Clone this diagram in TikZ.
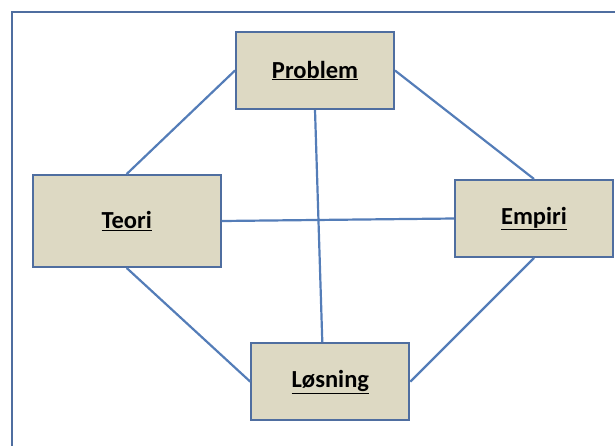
\documentclass[tikz,border=0pt]{standalone}
\usepackage{fontspec}
\setmainfont{Carlito}
\usepackage{xcolor}
\usetikzlibrary{positioning}
\definecolor{BoxFill}{RGB}{221,217,195}
\definecolor{BoxEdge}{RGB}{79,110,160}
\definecolor{LinkBlue}{RGB}{84,125,184}
\begin{document}
\begin{tikzpicture}[
            x=1pt, y=-1pt,
            % Kasser med tekst
            conceptNode/.style={
                rectangle, draw=BoxEdge, line width=2pt,
                fill=BoxFill,
                minimum width=158pt,
                minimum height=77pt,
                align=center,
                font=\bfseries\fontsize{24.5}{28}\selectfont
            },
            % Linjer mellom kassene
            linkLine/.style={draw=LinkBlue, line width=2.2pt}
        ]

            % --- RAMME ---
            \useasboundingbox (0,0) rectangle (615,445);
            \clip (0,0) rectangle (615,445);
            \draw[draw=BoxEdge, line width=2pt] (11.5,12) rectangle (640,470);

            % --- NODER ---
            \node[conceptNode] (P) at (315,70.5) {\underline{Problem}};
            \node[conceptNode, minimum width=188pt, minimum height=92pt] (T) at (126.7,221) {\underline{Teori}};
            \node[conceptNode] (E) at (534,218.5) {\underline{Empiri}};
            \node[conceptNode] (L) at (330.3,381.7) {\underline{Løsning}};

            % --- LINJER ---
            \draw[linkLine] (P.west) -- (T.north);
            \draw[linkLine] (P.east) -- (E.north);
            \draw[linkLine] (P.south) -- ([xshift=-8pt]L.north);
            \draw[linkLine] (T.east) -- (E.west);
            \draw[linkLine] (T.south) -- (L.west);
            \draw[linkLine] (E.south) -- (L.east);

        \end{tikzpicture}
\end{document}
